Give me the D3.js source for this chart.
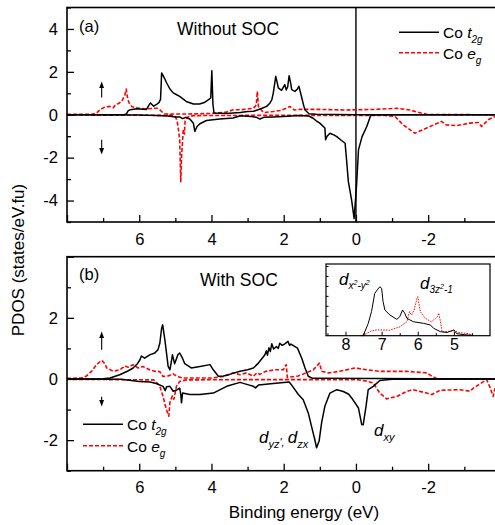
<!DOCTYPE html>
<html>
<head>
<meta charset="utf-8">
<script src="https://cdn.jsdelivr.net/npm/d3@7/dist/d3.min.js"></script>
<style>
  html, body { margin: 0; padding: 0; background: #fff; }
  svg { display: block; }
  text { font-family: "Liberation Sans", Arial, sans-serif; fill: #000; }
</style>
</head>
<body>
<svg id="chart" width="495" height="525"></svg>
<script>
// ---- data: [binding energy (eV), PDOS (states/eV.fu)] ----
const energyMajorTicks = [8, 6, 4, 2, 0, -2];
const energyMinorTicks = [7, 5, 3, 1, -1, -3];
const energyTickLabels = ["", "6", "4", "2", "0", "-2"];

// (a) without SOC
const aT2gUp = [[8,0],[6.4,0.01],[6.35,0.05],[6.3,0.2],[6.2,0.25],[6.07,0.28],[5.9,0.26],[5.8,0.25],[5.73,0.45],[5.69,0.55],[5.6,0.4],[5.52,0.48],[5.45,0.58],[5.41,0.72],[5.38,1.95],[5.3,1.7],[5.24,1.48],[5.15,1.2],[5.06,1.02],[4.95,0.92],[4.88,0.86],[4.7,0.62],[4.5,0.5],[4.33,0.5],[4.2,0.57],[4.1,0.68],[4.02,0.78],[3.99,2.05],[3.96,0.5],[3.93,0.08],[3.6,0.06],[3.4,0.08],[3.2,0.1],[3.0,0.15],[2.84,0.16],[2.71,0.23],[2.6,0.3],[2.47,0.39],[2.38,0.55],[2.33,0.69],[2.29,1.0],[2.22,1.79],[2.18,1.5],[2.15,1.25],[2.06,1.14],[1.97,1.4],[1.93,1.16],[1.89,1.3],[1.85,1.82],[1.8,1.4],[1.78,1.17],[1.69,1.09],[1.62,1.2],[1.58,1.33],[1.52,0.93],[1.45,0.45],[1.41,0.22],[1.3,0.05],[1.1,0.02],[0,0],[-3.85,0]];
const aT2gDown = [[8,0],[6,-0.01],[5.5,-0.03],[5.2,-0.06],[5.0,-0.1],[4.88,-0.1],[4.8,-0.18],[4.7,-0.12],[4.6,-0.2],[4.5,-0.4],[4.46,-0.78],[4.4,-0.55],[4.32,-0.42],[4.14,-0.27],[3.77,-0.2],[3.4,-0.15],[3.2,-0.05],[2.9,-0.08],[2.75,-0.12],[2.66,-0.2],[2.55,-0.12],[2.3,-0.1],[2.0,-0.08],[1.6,-0.04],[1.3,-0.06],[1.2,-0.15],[1.1,-0.28],[1.0,-0.39],[0.86,-0.62],[0.84,-1.17],[0.8,-1.0],[0.72,-0.86],[0.6,-0.95],[0.53,-1.02],[0.4,-1.2],[0.3,-1.33],[0.26,-2.1],[0.21,-3.12],[0.12,-3.98],[0.05,-4.84],[-0.02,-3.2],[-0.07,-1.64],[-0.17,-1.02],[-0.3,-0.55],[-0.41,-0.02],[-0.6,0],[-3.85,0]];
const aEgUp = [[8,0.02],[7.3,0.02],[7.18,0.08],[7.09,0.23],[6.95,0.36],[6.81,0.39],[6.72,0.33],[6.68,0.42],[6.55,0.55],[6.49,0.62],[6.4,0.9],[6.36,1.2],[6.32,0.75],[6.28,0.55],[6.2,0.37],[6.0,0.3],[5.8,0.27],[5.6,0.3],[5.5,0.3],[5.43,0.23],[5.38,0.15],[5.3,0.05],[5.2,0.03],[4.5,0.04],[4.0,0.06],[3.6,0.12],[3.4,0.23],[3.2,0.23],[2.84,0.3],[2.76,0.45],[2.73,1.09],[2.7,0.39],[2.6,0.18],[2.55,0.1],[2.29,0.15],[2.1,0.2],[1.93,0.3],[1.83,0.39],[1.7,0.22],[1.55,0.25],[1.0,0.25],[0.3,0.22],[-0.5,0.25],[-1.13,0.3],[-1.5,0.22],[-1.8,0.08],[-2.0,0.01],[-3.85,0]];
const aEgDown = [[8,-0.01],[5.1,-0.03],[5.0,-0.08],[4.95,-0.3],[4.92,-0.62],[4.88,-1.17],[4.86,-2.5],[4.85,-3.12],[4.83,-2.0],[4.8,-1.2],[4.78,-0.7],[4.75,-0.9],[4.73,-0.3],[4.65,-0.1],[4.5,-0.04],[3.0,-0.03],[1.0,-0.03],[0,-0.03],[-0.8,-0.03],[-1.08,-0.08],[-1.31,-0.47],[-1.63,-0.86],[-1.96,-0.62],[-2.37,-0.31],[-2.5,-0.47],[-2.79,-0.51],[-3.15,-0.39],[-3.39,-0.36],[-3.48,-0.55],[-3.66,-0.23],[-3.85,-0.08]];

// (b) with SOC
const bT2gUp = [[8,0],[7,0.01],[6.81,0.03],[6.54,0.14],[6.3,0.27],[6.17,0.36],[6.05,0.5],[5.98,0.63],[5.94,0.75],[5.85,0.68],[5.71,0.79],[5.57,0.85],[5.48,0.96],[5.43,1.17],[5.38,1.66],[5.35,1.77],[5.29,1.28],[5.24,0.8],[5.2,0.41],[5.15,0.3],[5.08,0.79],[5.02,0.5],[4.93,0.79],[4.88,0.85],[4.81,0.7],[4.74,0.5],[4.56,0.36],[4.32,0.41],[4.04,0.47],[3.95,0.3],[3.81,0.09],[3.67,0.1],[3.5,0.15],[3.21,0.25],[3.0,0.3],[2.84,0.36],[2.7,0.52],[2.52,0.79],[2.48,0.92],[2.45,0.78],[2.41,1.02],[2.37,0.9],[2.33,1.15],[2.28,0.98],[2.2,1.06],[2.15,1.0],[2.11,1.17],[2.04,1.1],[1.97,1.15],[1.88,1.23],[1.84,1.1],[1.8,1.14],[1.62,1.01],[1.5,0.68],[1.41,0.36],[1.32,0.09],[1.2,0.02],[-3.85,0]];
const bT2gDown = [[8,0],[6.5,-0.01],[6.0,-0.08],[5.7,-0.1],[5.53,-0.15],[5.34,-0.24],[5.28,-0.38],[5.24,-0.25],[5.15,-0.24],[5.06,-0.4],[4.95,-0.35],[4.88,-0.3],[4.85,-0.5],[4.83,-0.78],[4.8,-0.46],[4.6,-0.51],[4.32,-0.51],[3.95,-0.46],[3.58,-0.24],[3.21,-0.11],[2.95,-0.2],[2.84,-0.24],[2.78,-0.29],[2.7,-0.2],[2.29,-0.15],[1.85,-0.1],[1.78,-0.2],[1.69,-0.35],[1.6,-0.5],[1.46,-0.68],[1.32,-1.11],[1.23,-1.55],[1.14,-1.98],[1.09,-2.25],[1.02,-2.03],[0.95,-1.43],[0.86,-0.89],[0.72,-0.46],[0.53,-0.35],[0.35,-0.41],[0.2,-0.5],[0.12,-0.62],[-0.07,-0.95],[-0.16,-1.49],[-0.2,-1.5],[-0.28,-0.89],[-0.34,-0.35],[-0.48,-0.24],[-0.66,-0.05],[-1.0,-0.01],[-3.85,0]];
const bEgUp = [[8,0.02],[7.6,0.03],[7.46,0.1],[7.32,0.25],[7.18,0.47],[7.04,0.61],[6.95,0.5],[6.9,0.36],[6.72,0.25],[6.54,0.3],[6.4,0.43],[6.31,0.38],[6.17,0.47],[6.03,0.36],[5.9,0.41],[5.71,0.3],[5.57,0.25],[5.43,0.24],[5.34,0.08],[5.2,0.1],[5.06,0.17],[4.95,0.08],[4.8,0.03],[4.0,0.03],[3.67,0.08],[3.4,0.2],[3.21,0.14],[3.03,0.2],[2.84,0.09],[2.74,0.2],[2.66,0.15],[2.5,0.25],[2.24,0.3],[2.01,0.3],[1.93,0.47],[1.9,0.05],[1.6,0.1],[1.5,0.14],[1.18,0.3],[1.01,0.52],[0.95,0.25],[0.77,0.2],[0.45,0.25],[0.03,0.36],[-0.3,0.3],[-0.66,0.25],[-1.4,0.25],[-1.96,0.2],[-2.1,0.09],[-2.25,0.01],[-3.85,0]];
const bEgDown = [[8,-0.01],[5.6,-0.03],[5.53,-0.1],[5.43,-0.24],[5.34,-0.57],[5.25,-1.0],[5.18,-1.22],[5.15,-0.75],[5.08,-0.55],[5.04,-0.66],[4.97,-0.24],[4.88,-0.08],[4.7,-0.03],[3.0,-0.02],[0,-0.02],[-0.3,-0.07],[-0.48,-0.13],[-0.66,-0.46],[-0.85,-0.65],[-1.13,-0.57],[-1.4,-0.41],[-1.57,-0.35],[-1.96,-0.46],[-2.1,-0.51],[-2.33,-0.37],[-2.88,-0.35],[-3.16,-0.4],[-3.25,-0.3],[-3.62,-0.02],[-3.7,-0.24],[-3.8,-0.57],[-3.85,-0.3]];

// inset: e_g orbitals (arbitrary units)
const insetTicks = [8, 7, 6, 5];
const insetMinorTicks = [8.5, 7.5, 6.5, 5.5, 4.5];
const insetX2Y2 = [[7.55,0],[7.51,0],[7.37,0.62],[7.28,1.21],[7.19,2.13],[7.12,2.3],[7.05,2.46],[7.0,2.38],[6.96,1.71],[6.91,1.29],[6.77,1.04],[6.58,0.82],[6.5,0.95],[6.42,1.29],[6.36,1.13],[6.3,0.87],[6.12,0.7],[5.84,0.62],[5.65,0.54],[5.56,0.37],[5.37,0.2],[5.19,0.16],[5.0,0.29],[4.92,0.1],[4.7,0.05],[4.5,0.02]];
const insetZ2 = [[7.6,0],[7.45,0.08],[7.3,0.22],[7.14,0.29],[6.77,0.28],[6.49,0.45],[6.3,0.7],[6.23,1.21],[6.17,1.04],[6.1,1.29],[6.02,1.88],[6.0,1.96],[5.93,1.21],[5.79,0.87],[5.62,0.7],[5.46,0.95],[5.42,1.13],[5.37,0.7],[5.33,0.2],[5.15,0.22],[4.98,0.25],[4.88,0.16],[4.6,0.1],[4.45,0]];

// ---- layout ----
const svg = d3.select("#chart");
const left = 67, right = 495;
const panels = [
  { key: "a", top: 7.5, bottom: 222, yDomain: [-5, 5], yMajor: [4, 2, 0, -2, -4], yMinor: [5, 3, 1, -1, -3, -5],
    t2gUp: aT2gUp, t2gDown: aT2gDown, egUp: aEgUp, egDown: aEgDown },
  { key: "b", top: 256.7, bottom: 470.7, yDomain: [-3, 4], yMajor: [4, 2, 0, -2], yMinor: [3, 1, -1, -3],
    t2gUp: bT2gUp, t2gDown: bT2gDown, egUp: bEgUp, egDown: bEgDown }
];

const x = d3.scaleLinear().domain([8, -3.85]).range([left, right]);
const fmt = d => String(d);

panels.forEach(p => {
  const y = d3.scaleLinear().domain(p.yDomain).range([p.bottom, p.top]);
  p.y = y;
  const g = svg.append("g");
  const clipId = "clip-" + p.key;
  svg.append("clipPath").attr("id", clipId)
    .append("rect").attr("x", left).attr("y", p.top).attr("width", right - left).attr("height", p.bottom - p.top);

  const line = d3.line().x(d => x(d[0])).y(d => y(d[1]));
  const curves = g.append("g").attr("clip-path", `url(#${clipId})`);

  if (p.key === "a") {
    curves.append("line")
      .attr("x1", x(0)).attr("x2", x(0)).attr("y1", p.top).attr("y2", p.bottom)
      .attr("stroke", "#000").attr("stroke-width", 1.4);
  }
  [p.egUp, p.egDown].forEach(s => curves.append("path").datum(s).attr("d", line)
    .attr("fill", "none").attr("stroke", "#ff0000").attr("stroke-width", 1.6)
    .attr("stroke-dasharray", "4,2").attr("stroke-linejoin", "round"));
  [p.t2gUp, p.t2gDown].forEach(s => curves.append("path").datum(s).attr("d", line)
    .attr("fill", "none").attr("stroke", "#000").attr("stroke-width", 1.5).attr("stroke-linejoin", "round"));

  // axes: ticks point into the plot
  const xAxis = d3.axisBottom(x).tickValues(energyMajorTicks)
    .tickFormat((d, i) => energyTickLabels[i]).tickSizeInner(-7).tickSizeOuter(0).tickPadding(11);
  const xMinor = d3.axisBottom(x).tickValues(energyMinorTicks).tickFormat("").tickSizeInner(-4).tickSizeOuter(0);
  const yAxis = d3.axisLeft(y).tickValues(p.yMajor)
    .tickFormat(d => (p.key === "b" && d === 4) ? "" : fmt(d)).tickSizeInner(-7).tickSizeOuter(0).tickPadding(9);
  const yMinor = d3.axisLeft(y).tickValues(p.yMinor).tickFormat("").tickSizeInner(-4).tickSizeOuter(0);

  [xAxis, xMinor].forEach(ax => {
    const a = g.append("g").attr("transform", `translate(0,${p.bottom})`).call(ax);
    a.select(".domain").remove();
    a.selectAll("line").attr("stroke-width", 1.3);
    a.selectAll("text").attr("font-size", 16.5).style("font-family", "Liberation Sans, Arial, sans-serif");
  });
  [yAxis, yMinor].forEach(ax => {
    const a = g.append("g").attr("transform", `translate(${left},0)`).call(ax);
    a.select(".domain").remove();
    a.selectAll("line").attr("stroke-width", 1.3);
    a.selectAll("text").attr("font-size", 16.5).style("font-family", "Liberation Sans, Arial, sans-serif");
  });

  g.append("rect").attr("x", left).attr("y", p.top).attr("width", right - left + 2).attr("height", p.bottom - p.top)
    .attr("fill", "none").attr("stroke", "#000").attr("stroke-width", 1.6);
});

// spin arrows
function spinArrow(p, e, v0, v1) {
  const ax = x(e), y0 = p.y(v0), y1 = p.y(v1);
  const dir = y1 < y0 ? -1 : 1;
  svg.append("line").attr("x1", ax).attr("x2", ax).attr("y1", y0).attr("y2", y1 - dir * 4)
    .attr("stroke", "#000").attr("stroke-width", 1.1);
  svg.append("path")
    .attr("d", `M${ax},${y1} L${ax - 2.4},${y1 - dir * 6.5} L${ax + 2.4},${y1 - dir * 6.5} Z`)
    .attr("fill", "#000");
}
spinArrow(panels[0], 7.04, 0.8, 1.55);
spinArrow(panels[0], 7.04, -1.17, -1.85);
spinArrow(panels[1], 7.04, 0.96, 1.55);
spinArrow(panels[1], 7.04, -0.58, -0.9);

// panel labels
svg.append("text").attr("x", 79).attr("y", 32).attr("font-size", 16.5).text("(a)");
svg.append("text").attr("x", 177).attr("y", 35).attr("font-size", 17.5).text("Without SOC");
svg.append("text").attr("x", 79).attr("y", 280).attr("font-size", 16.5).text("(b)");
svg.append("text").attr("x", 200).attr("y", 286).attr("font-size", 17.5).text("With SOC");

// legends
function legend(x0, yLine, dashed, sym, sub) {
  svg.append("line").attr("x1", x0).attr("x2", x0 + 40).attr("y1", yLine).attr("y2", yLine)
    .attr("stroke", dashed ? "#ff0000" : "#000").attr("stroke-width", 1.6)
    .attr("stroke-dasharray", dashed ? "4,2" : null);
  const t = svg.append("text").attr("x", x0 + 44).attr("y", yLine + 6).attr("font-size", 15.5);
  t.append("tspan").text("Co ");
  t.append("tspan").attr("font-style", "italic").text(sym);
  t.append("tspan").attr("font-style", "italic").attr("font-size", 10).attr("dy", 5).text(sub);
}
legend(399, 32.3, false, "t", "2g");
legend(399, 52.7, true, "e", "g");
legend(83, 424.3, false, "t", "2g");
legend(83, 445.7, true, "e", "g");

// orbital annotations
function orbital(x0, y0, parts) {
  const t = svg.append("text").attr("x", x0).attr("y", y0).attr("font-size", 17).attr("font-style", "italic");
  parts.forEach(([s, size, dy]) => t.append("tspan").attr("font-size", size).attr("dy", dy).text(s));
}
orbital(259, 443, [["d", 17, 0], ["yz", 11, 5], ["', ", 11, -2], ["d", 17, -3], ["zx", 11, 5]]);
orbital(374, 436, [["d", 17, 0], ["xy", 11, 5]]);

// inset
const inset = { left: 326, right: 490, top: 264, bottom: 335.7 };
const ix = d3.scaleLinear().domain([8.54, 4.0]).range([inset.left, inset.right]);
const iy = d3.scaleLinear().domain([0, 3.6]).range([inset.bottom, inset.top]);
const ig = svg.append("g");
ig.append("rect").attr("x", inset.left).attr("y", inset.top)
  .attr("width", inset.right - inset.left).attr("height", inset.bottom - inset.top).attr("fill", "#fff");
const iline = d3.line().x(d => ix(d[0])).y(d => iy(d[1]));
ig.append("path").datum(insetZ2).attr("d", iline).attr("fill", "none")
  .attr("stroke", "#ff0000").attr("stroke-width", 1).attr("stroke-dasharray", "1.5,1.2");
ig.append("path").datum(insetX2Y2).attr("d", iline).attr("fill", "none")
  .attr("stroke", "#000").attr("stroke-width", 1);
const ixAxis = d3.axisBottom(ix).tickValues(insetTicks).tickFormat(fmt).tickSizeInner(-4).tickSizeOuter(0).tickPadding(3);
const ixMinor = d3.axisBottom(ix).tickValues(insetMinorTicks).tickFormat("").tickSizeInner(-2.5).tickSizeOuter(0);
const iyMinor = d3.axisLeft(iy).tickValues(d3.range(0.5, 3.6, 0.5)).tickFormat("").tickSizeInner(-2.5).tickSizeOuter(0);
[ixAxis, ixMinor].forEach(ax => {
  const a = ig.append("g").attr("transform", `translate(0,${inset.bottom})`).call(ax);
  a.select(".domain").remove();
  a.selectAll("line").attr("stroke-width", 1);
  a.selectAll("text").attr("font-size", 16).style("font-family", "Liberation Sans, Arial, sans-serif");
});
{
  const a = ig.append("g").attr("transform", `translate(${inset.left},0)`).call(iyMinor);
  a.select(".domain").remove();
  a.selectAll("line").attr("stroke-width", 1);
}
ig.append("rect").attr("x", inset.left).attr("y", inset.top)
  .attr("width", inset.right - inset.left).attr("height", inset.bottom - inset.top)
  .attr("fill", "none").attr("stroke", "#000").attr("stroke-width", 1.2);
orbital(339, 285, [["d", 17, 0], ["x", 10, 4], ["2", 7, -4], ["-y", 10, 4], ["2", 7, -4]]);
orbital(420, 289, [["d", 17, 0], ["3z", 10, 4], ["2", 7, -4], ["-1", 10, 4]]);

// axis titles
svg.append("text").attr("transform", "translate(24,260) rotate(-90)")
  .attr("text-anchor", "middle").attr("font-size", 17).text("PDOS (states/eV.fu)");
svg.append("text").attr("x", 304).attr("y", 518)
  .attr("text-anchor", "middle").attr("font-size", 17).text("Binding energy (eV)");
</script>
</body>
</html>
